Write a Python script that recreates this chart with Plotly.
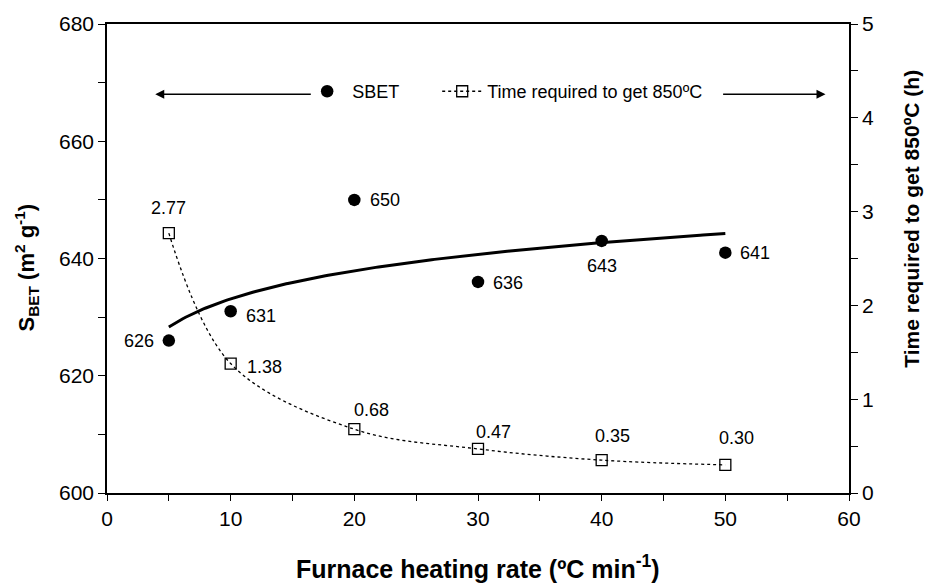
import numpy as np
import plotly.graph_objects as go

# ---- data ----
rate = [5, 10, 20, 30, 40, 50]
sbet = [626, 631, 650, 636, 643, 641]
sbet_labels = ["626", "631", "650", "636", "643", "641"]
time_h = [2.77, 1.38, 0.68, 0.47, 0.35, 0.30]
time_labels = ["2.77", "1.38", "0.68", "0.47", "0.35", "0.30"]

x_ticks = [0, 10, 20, 30, 40, 50, 60]
x_minor = [5, 15, 25, 35, 45, 55]
y_ticks = [600, 620, 640, 660, 680]
y_minor = [610, 630, 650, 670]
y2_ticks = [0, 1, 2, 3, 4, 5]
y2_minor = [0.5, 1.5, 2.5, 3.5, 4.5]

x_title = "<b>Furnace heating rate (ºC min<sup>-1</sup>)</b>"
y_title = "<b>S<sub>BET</sub> (m<sup>2</sup> g<sup>-1</sup>)</b>"
y2_title = "<b>Time required to get 850ºC (h)</b>"

# label offsets (px) relative to markers
sbet_dx = [-30, 30, 31, 30, 0, 30]
sbet_dy = [0, -5, 0, -1, -25, 0]
time_dx = [0, 34, 17, 15, 11, 11]
time_dy = [25, -3, 19, 17, 24, 27]

FONT = "Liberation Sans, Arial, sans-serif"

# logarithmic trend of S_BET
b, a = np.polyfit(np.log(rate), sbet, 1)
xt = np.linspace(min(rate), max(rate), 200)
yt = a + b * np.log(xt)

fig = go.Figure()

fig.add_trace(go.Scatter(
    x=xt, y=yt, mode="lines", line=dict(color="black", width=3),
    showlegend=False, hoverinfo="skip"))

fig.add_trace(go.Scatter(
    x=rate, y=sbet, mode="markers", name="SBET",
    marker=dict(symbol="circle", size=12.5, color="black"),
    legend="legend"))

fig.add_trace(go.Scatter(
    x=rate, y=time_h, mode="lines+markers", name="Time required to get 850ºC",
    line=dict(color="black", width=1.3, dash="dot", shape="spline", smoothing=1.0),
    marker=dict(symbol="square-open", size=11, color="black", line=dict(width=1.3)),
    yaxis="y2", legend="legend2"))

annotations = []
for x, y, t, dx, dy in zip(rate, sbet, sbet_labels, sbet_dx, sbet_dy):
    annotations.append(dict(x=x, y=y, xref="x", yref="y", text=t, showarrow=False,
                            xshift=dx, yshift=dy, font=dict(size=18, color="black", family=FONT)))
for x, y, t, dx, dy in zip(rate, time_h, time_labels, time_dx, time_dy):
    annotations.append(dict(x=x, y=y, xref="x", yref="y2", text=t, showarrow=False,
                            xshift=dx, yshift=dy, font=dict(size=18, color="black", family=FONT)))

# legend arrows
annotations.append(dict(x=3.9, y=668.0, ax=16.6, ay=668.0, xref="x", yref="y",
                        axref="x", ayref="y", showarrow=True, arrowhead=2,
                        arrowsize=1.2, arrowwidth=1.5, arrowcolor="black", text=""))
annotations.append(dict(x=58.1, y=668.0, ax=49.7, ay=668.0, xref="x", yref="y",
                        axref="x", ayref="y", showarrow=True, arrowhead=2,
                        arrowsize=1.2, arrowwidth=1.5, arrowcolor="black", text=""))

# axis titles
annotations.append(dict(text=x_title, xref="paper", yref="paper", x=0.5, y=-0.157,
                        xanchor="center", yanchor="middle", showarrow=False,
                        font=dict(size=25, color="black", family=FONT)))
annotations.append(dict(text=y_title, xref="paper", yref="paper", x=-0.109, y=0.481,
                        xanchor="center", yanchor="middle", showarrow=False, textangle=-90,
                        font=dict(size=22, color="black", family=FONT)))
annotations.append(dict(text=y2_title, xref="paper", yref="paper", x=1.085, y=0.585,
                        xanchor="center", yanchor="middle", showarrow=False, textangle=-90,
                        font=dict(size=21, color="black", family=FONT)))

tick_style = dict(tickwidth=1.2, tickcolor="black")

fig.update_layout(
    width=931, height=585,
    margin=dict(l=107, r=82, t=21, b=92),
    paper_bgcolor="white", plot_bgcolor="white",
    font=dict(family=FONT, size=21, color="black"),
    annotations=annotations,
    xaxis=dict(
        range=[0, 60], tickvals=x_ticks,
        ticks="outside", ticklen=6, **tick_style,
        minor=dict(tickvals=x_minor, ticks="outside", ticklen=6, **tick_style),
        showline=True, linecolor="black", linewidth=1.5, mirror=True,
        showgrid=False, zeroline=False,
        tickfont=dict(size=21),
    ),
    # overlay axis giving the inner half of crossing x ticks
    xaxis2=dict(
        matches="x", overlaying="x", anchor="y", side="bottom",
        tickvals=x_ticks, ticks="inside", ticklen=5, **tick_style,
        minor=dict(tickvals=x_minor, ticks="inside", ticklen=5, **tick_style),
        showticklabels=False, showline=False, showgrid=False, zeroline=False,
    ),
    yaxis=dict(
        range=[600, 680], tickvals=y_ticks,
        ticks="outside", ticklen=7, **tick_style,
        minor=dict(tickvals=y_minor, ticks="outside", ticklen=7, **tick_style),
        showline=True, linecolor="black", linewidth=1.5,
        showgrid=False, zeroline=False,
        tickfont=dict(size=21),
    ),
    yaxis3=dict(
        matches="y", overlaying="y", anchor="x", side="left",
        tickvals=y_minor, ticks="inside", ticklen=3, **tick_style,
        showticklabels=False, showline=False, showgrid=False, zeroline=False,
    ),
    yaxis2=dict(
        range=[0, 5], tickvals=y2_ticks,
        overlaying="y", side="right", anchor="x",
        ticks="outside", ticklen=7, **tick_style,
        minor=dict(tickvals=y2_minor, ticks="outside", ticklen=7, **tick_style),
        showline=True, linecolor="black", linewidth=1.5,
        showgrid=False, zeroline=False,
        tickfont=dict(size=21),
    ),
    yaxis4=dict(
        matches="y2", overlaying="y", anchor="x", side="right",
        tickvals=y2_ticks, ticks="inside", ticklen=6, **tick_style,
        minor=dict(tickvals=y2_minor, ticks="inside", ticklen=6, **tick_style),
        showticklabels=False, showline=False, showgrid=False, zeroline=False,
    ),
    legend=dict(x=0.263, y=0.856, xanchor="left", yanchor="middle",
                bgcolor="rgba(0,0,0,0)", font=dict(size=18), itemwidth=40),
    legend2=dict(x=0.445, y=0.856, xanchor="left", yanchor="middle",
                 bgcolor="rgba(0,0,0,0)", font=dict(size=18), itemwidth=40),
)

fig.write_html("out.html")
